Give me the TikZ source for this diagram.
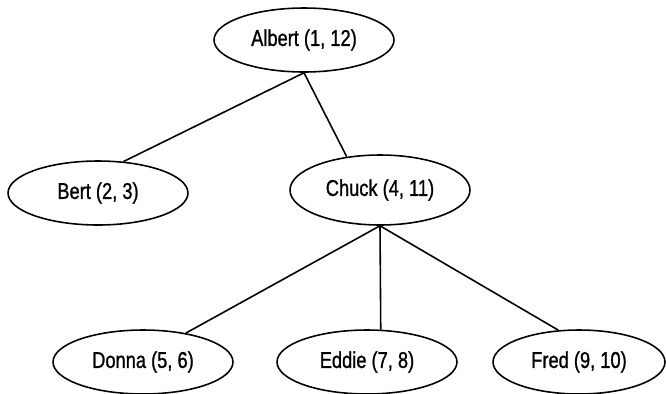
\documentclass[tikz,border=0pt]{standalone}
\usepackage{fontspec}
\setmainfont[FakeStretch=0.8,FakeBold=1]{Liberation Sans}
\usetikzlibrary{shapes.geometric}
\tikzset{person/.style={draw,ellipse,line width=.9pt,inner sep=0pt,minimum width=3.6cm,minimum height=1.28cm,font=\fontsize{13}{15}\selectfont},
edge/.style={line width=.9pt}}

\begin{document}
\begin{tikzpicture}[x=.02cm,y=-.02cm]
\useasboundingbox (0,0) rectangle (666,393);
\node[person] (albert) at (304,40){Albert (1, 12)};
\node[person] (bert) at (98,193){Bert (2, 3)};
\node[person,minimum height=1.4cm] (chuck) at (380,190){Chuck (4, 11)};
\node[person] (donna) at (143,362){Donna (5, 6)};
\node[person] (eddie) at (367,362){Eddie (7, 8)};
\node[person,minimum width=3.44cm] (fred) at (579,362){Fred (9, 10)};
% tree edges
\draw[edge] (albert.south)--(bert.51);\draw[edge] (albert.south)--(chuck.135);
\draw[edge] (chuck.south)--(donna.34);\draw[edge] (chuck.south)--(eddie.67);
\draw[edge] (chuck.south)--(fred.123);
\end{tikzpicture}
\end{document}
